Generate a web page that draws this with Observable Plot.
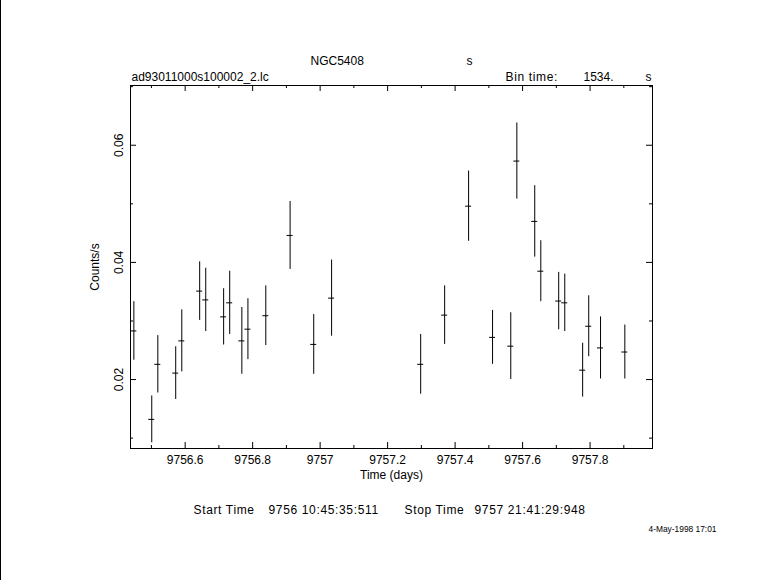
<!DOCTYPE html>
<html><head><meta charset="utf-8">
<script src="https://cdn.jsdelivr.net/npm/d3@7"></script>
<script src="https://cdn.jsdelivr.net/npm/@observablehq/plot@0.6"></script>
<style>
html,body{margin:0;padding:0;background:#fff;}
#wrap{position:relative;width:781px;height:580px;overflow:hidden;}
#edge{position:absolute;left:0;top:0;width:1px;height:580px;background:#000;}
</style></head>
<body><div id="wrap"><div id="edge"></div></div>
<script>
// ---- texts ----
const objectName = "NGC5408";
const objectUnit = "s";
const fileName = "ad93011000s100002_2.lc";
const binLabel = "Bin time:";
const binValueLabel = "1534.";
const binUnit = "s";
const xLabel = "Time (days)";
const yLabel = "Counts/s";
const startLabel = "Start Time";
const startValue = "9756 10:45:35:511";
const stopLabel = "Stop Time";
const stopValue = "9757 21:41:29:948";
const dateStamp = "4-May-1998 17:01";

// ---- data ----
const time = [9756.448, 9756.501, 9756.519, 9756.572, 9756.590, 9756.643, 9756.661, 9756.714, 9756.732, 9756.768,
              9756.786, 9756.839, 9756.911, 9756.981, 9757.034, 9757.298, 9757.369, 9757.440, 9757.511, 9757.565,
              9757.583, 9757.636, 9757.654, 9757.707, 9757.725, 9757.778, 9757.796, 9757.831, 9757.903];
const rate = [0.0283, 0.0132, 0.0226, 0.0211, 0.0266, 0.0351, 0.0336, 0.0307, 0.0331, 0.0266,
              0.0286, 0.0309, 0.0446, 0.0260, 0.0339, 0.0226, 0.0310, 0.0496, 0.0272, 0.0257,
              0.0573, 0.0470, 0.0385, 0.0334, 0.0331, 0.0216, 0.0291, 0.0254, 0.0247];
const rateErr = [0.0050, 0.0040, 0.0049, 0.0045, 0.0053, 0.0050, 0.0054, 0.0048, 0.0054, 0.0057,
                 0.0052, 0.0051, 0.0058, 0.0051, 0.0065, 0.0051, 0.0050, 0.0060, 0.0046, 0.0057,
                 0.0065, 0.0061, 0.0052, 0.0049, 0.0049, 0.0046, 0.0052, 0.0053, 0.0046];
const binTimeSec = 1534;

// ---- ticks ----
const xMajorTicks = [9756.6, 9756.8, 9757, 9757.2, 9757.4, 9757.6, 9757.8];
const xMinorTicks = [9756.5, 9756.7, 9756.9, 9757.1, 9757.3, 9757.5, 9757.7, 9757.9];
const yMajorTicks = [0.02, 0.04, 0.06];
const yMinorTicks = [0.01, 0.03, 0.05, 0.07];
const xDomain = [9756.438, 9757.985];
const yDomain = [0.00823, 0.0702];

// ---- build ----
const rows = time.map((t, i) => ({t, r: rate[i], e: rateErr[i]}));
const halfBin = binTimeSec / 86400 / 2;
const W = 781, H = 580, mL = 130, mR = 129, mT = 85, mB = 132;
const fw = W - mL - mR, fh = H - mT - mB;
const FONT = "'Liberation Sans', Arial, sans-serif";
const fmtX = d => String(+d.toFixed(1));
const fmtY = d => d.toFixed(2);
const label = (txt, opts) => Plot.text([txt], {text: d => d, fill: "black", fontSize: 12, lineAnchor: "bottom", ...opts});

const chart = Plot.plot({
  width: W, height: H,
  marginLeft: mL, marginRight: mR, marginTop: mT, marginBottom: mB,
  style: {fontFamily: FONT, fontSize: "12px", background: "white", color: "black"},
  x: {domain: xDomain, axis: null},
  y: {domain: yDomain, axis: null},
  marks: [
    Plot.frame({stroke: "black"}),
    // inward ticks on all four sides
    Plot.ruleX(xMajorTicks, {x: d => d, insetTop: fh - 6, stroke: "black"}),
    Plot.ruleX(xMajorTicks, {x: d => d, insetBottom: fh - 6, stroke: "black"}),
    Plot.ruleX(xMinorTicks, {x: d => d, insetTop: fh - 3, stroke: "black"}),
    Plot.ruleX(xMinorTicks, {x: d => d, insetBottom: fh - 3, stroke: "black"}),
    Plot.ruleY(yMajorTicks, {y: d => d, insetRight: fw - 6, stroke: "black"}),
    Plot.ruleY(yMajorTicks, {y: d => d, insetLeft: fw - 6, stroke: "black"}),
    Plot.ruleY(yMinorTicks, {y: d => d, insetRight: fw - 3, stroke: "black"}),
    Plot.ruleY(yMinorTicks, {y: d => d, insetLeft: fw - 3, stroke: "black"}),
    // error bars
    Plot.ruleX(rows, {x: "t", y1: d => d.r - d.e, y2: d => d.r + d.e, stroke: "black", strokeWidth: 1, clip: true}),
    Plot.ruleY(rows, {y: "r", x1: d => d.t - halfBin, x2: d => d.t + halfBin, stroke: "black", strokeWidth: 1, clip: true}),
    // tick labels
    Plot.text(xMajorTicks, {x: d => d, text: fmtX, frameAnchor: "bottom", dy: 15, lineAnchor: "bottom", fill: "black", fontSize: 12}),
    Plot.text(yMajorTicks, {y: d => d, text: fmtY, frameAnchor: "left", dx: -8, rotate: -90, textAnchor: "middle", lineAnchor: "bottom", fill: "black", fontSize: 12}),
    // axis labels
    label(xLabel, {frameAnchor: "bottom", dy: 30, textAnchor: "middle"}),
    label(yLabel, {frameAnchor: "left", dx: -32, rotate: -90, textAnchor: "middle"}),
    // header
    label(objectName, {frameAnchor: "top-left", dx: 180, dy: -21, textAnchor: "start"}),
    label(objectUnit, {frameAnchor: "top-left", dx: 336, dy: -21, textAnchor: "start"}),
    label(fileName, {frameAnchor: "top-left", dx: 1, dy: -5, textAnchor: "start"}),
    label(binLabel, {frameAnchor: "top-left", dx: 375, dy: -5, textAnchor: "start"}),
    label(binValueLabel, {frameAnchor: "top-left", dx: 453, dy: -5, textAnchor: "start"}),
    label(binUnit, {frameAnchor: "top-left", dx: 515, dy: -5, textAnchor: "start"}),
    // footer
    label(startLabel, {frameAnchor: "bottom-left", dx: 63, dy: 65, textAnchor: "start"}),
    label(startValue, {frameAnchor: "bottom-left", dx: 138, dy: 65, textAnchor: "start"}),
    label(stopLabel, {frameAnchor: "bottom-left", dx: 274, dy: 65, textAnchor: "start"}),
    label(stopValue, {frameAnchor: "bottom-left", dx: 344, dy: 65, textAnchor: "start"}),
    label(dateStamp, {frameAnchor: "bottom-left", dx: 586, dy: 83, textAnchor: "end", fontSize: 8.4})
  ]
});
// the footer lettering in the original is slightly wider
const wide = [startLabel, startValue, stopLabel, stopValue, binLabel];
d3.select(chart).selectAll("text")
  .filter(function () { return wide.includes(this.textContent); })
  .style("letter-spacing", "0.65px");
document.getElementById("wrap").appendChild(chart);
</script>
</body></html>
